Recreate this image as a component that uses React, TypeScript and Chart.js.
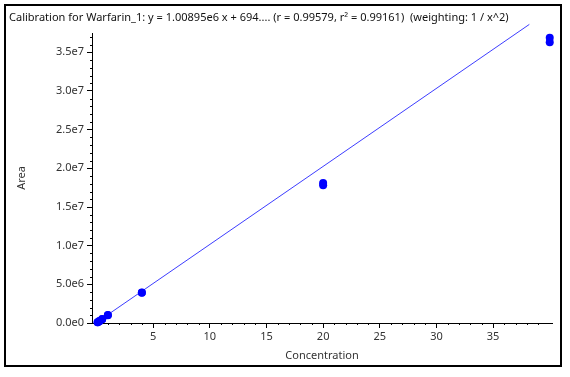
import React, { useEffect, useRef } from "react";
import { Chart, registerables } from "chart.js";

Chart.register(...registerables);

const titleText =
  "Calibration for Warfarin_1: y = 1.00895e6 x + 694.... (r = 0.99579, r\u00B2 = 0.99161)  (weighting: 1 / x^2)";
const concentrations = [0.1, 0.1, 0.25, 0.25, 0.5, 0.5, 1, 1, 4, 4, 20, 20, 40, 40];
const areas = [1.0e5, 1.1e5, 2.4e5, 2.6e5, 4.8e5, 5.1e5, 1.0e6, 1.05e6, 3.9e6, 3.95e6, 1.81e7, 1.78e7, 3.69e7, 3.63e7];
const fitSlope = 1.00895e6;
const fitIntercept = 69400;
const fitRange = [0, 38.2];
const xMajorTicks = [5, 10, 15, 20, 25, 30, 35];
const yMajorTicks = [0, 5e6, 1e7, 1.5e7, 2e7, 2.5e7, 3e7, 3.5e7];

const FONT = "'Noto Sans', 'Open Sans', sans-serif";

const fmtY = (v: number) => {
  if (v === 0) return "0.0e0";
  if (v < 1e7) return (v / 1e6).toFixed(1) + "e6";
  return (v / 1e7).toFixed(1) + "e7";
};

const extrasPlugin = {
  id: "extras",
  afterDraw(chart: any) {
    const ctx = chart.ctx;
    const xs = chart.scales.x;
    const ys = chart.scales.y;
    ctx.save();
    ctx.strokeStyle = "#000";
    ctx.lineWidth = 1;
    for (let v = 0; v <= 40; v += 1) {
      if (v % 5 === 0) continue;
      const px = Math.round(xs.getPixelForValue(v)) + 0.5;
      ctx.beginPath();
      ctx.moveTo(px, ys.bottom);
      ctx.lineTo(px, ys.bottom + 2);
      ctx.stroke();
    }
    for (let i = 0; i <= 37; i++) {
      if (i % 5 === 0) continue;
      const py = Math.round(ys.getPixelForValue(i * 1e6)) + 0.5;
      ctx.beginPath();
      ctx.moveTo(xs.left - 2, py);
      ctx.lineTo(xs.left, py);
      ctx.stroke();
    }
    let size = 12;
    ctx.font = `${size}px ${FONT}`;
    const w = ctx.measureText(titleText).width;
    size = Math.min(13, (12 * 500) / w);
    ctx.font = `${size}px ${FONT}`;
    ctx.fillStyle = "#111";
    ctx.textBaseline = "middle";
    ctx.textAlign = "left";
    ctx.fillText(titleText, 3, 12);
    ctx.restore();
  },
};

export default function App() {
  const ref = useRef<HTMLCanvasElement>(null);
  useEffect(() => {
    if (!ref.current) return;
    const points = concentrations.map((c, i) => ({ x: c, y: areas[i] }));
    const line = fitRange.map((x) => ({ x, y: fitSlope * x + fitIntercept }));
    const chart = new Chart(ref.current, {
      type: "scatter",
      data: {
        datasets: [
          {
            data: points,
            pointRadius: 4,
            pointBackgroundColor: "#0000ff",
            pointBorderColor: "#0000ff",
            pointBorderWidth: 0,
            clip: false as any,
          },
          {
            data: line,
            showLine: true,
            pointRadius: 0,
            borderColor: "rgba(40,40,255,0.9)",
            borderWidth: 1,
            clip: false as any,
          },
        ],
      },
      options: {
        animation: false,
        responsive: false,
        events: [],
        layout: { padding: { left: 0, right: 8, top: 27, bottom: 0 } },
        plugins: { legend: { display: false }, tooltip: { enabled: false }, title: { display: false } },
        scales: {
          x: {
            type: "linear",
            min: -0.4,
            max: 40.2,
            afterBuildTicks: (s: any) => {
              s.ticks = xMajorTicks.map((v) => ({ value: v }));
            },
            afterFit: (s: any) => {
              s.height = 42;
            },
            grid: { display: true, drawOnChartArea: false, drawTicks: true, tickLength: 5, color: "#000" },
            border: { display: true, color: "#000", width: 1 },
            ticks: { color: "#333", font: { family: FONT, size: 11 }, padding: 2, maxRotation: 0 },
            title: {
              display: true,
              text: "Concentration",
              color: "#333",
              font: { family: FONT, size: 11 },
              padding: { top: 0, bottom: 3 },
            },
          },
          y: {
            type: "linear",
            min: 0,
            max: 3.75e7,
            afterBuildTicks: (s: any) => {
              s.ticks = yMajorTicks.map((v) => ({ value: v }));
            },
            afterFit: (s: any) => {
              s.width = 86;
            },
            grid: { display: true, drawOnChartArea: false, drawTicks: true, tickLength: 5, color: "#000" },
            border: { display: true, color: "#000", width: 1 },
            ticks: {
              color: "#333",
              font: { family: FONT, size: 11 },
              padding: 3,
              callback: (v: any) => fmtY(Number(v)),
            },
            title: {
              display: true,
              text: "Area",
              color: "#333",
              font: { family: FONT, size: 11 },
              padding: { top: 9, bottom: 0 },
            },
          },
        },
      },
      plugins: [extrasPlugin],
    });
    return () => chart.destroy();
  }, []);
  return (
    <div
      style={{
        position: "fixed",
        left: 4,
        top: 4,
        width: 558,
        height: 363,
        border: "2px solid #000",
        boxSizing: "border-box",
        background: "#fff",
      }}
    >
      <canvas ref={ref} width={554} height={359} style={{ display: "block" }} />
    </div>
  );
}
